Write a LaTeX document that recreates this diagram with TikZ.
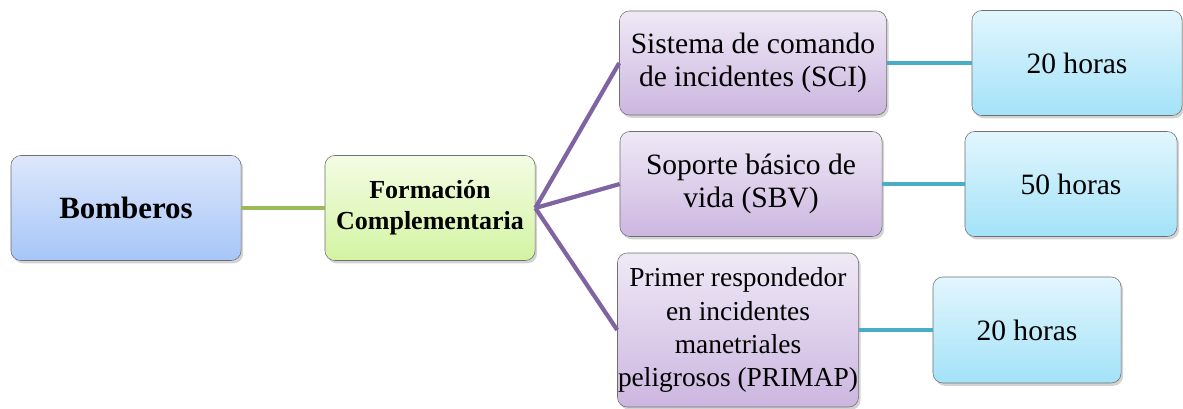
\documentclass[tikz,border=0pt]{standalone}
\usepackage{fontspec}
\setmainfont{Liberation Serif}
\usetikzlibrary{shadows,positioning}
\newcommand{\boxh}{2.625cm}
\definecolor{bordergray}{HTML}{707070}
\definecolor{greenln}{HTML}{9BBB59}
\definecolor{purpleln}{HTML}{8064A2}
\definecolor{tealln}{HTML}{4BACC6}
\definecolor{bluetop}{HTML}{DDE7FB}
\definecolor{bluebot}{HTML}{A6C6F8}
\definecolor{limetop}{HTML}{F4FCE4}
\definecolor{limebot}{HTML}{D3F4A2}
\definecolor{violtop}{HTML}{EFE9F6}
\definecolor{violbot}{HTML}{CCB6E0}
\definecolor{cyantop}{HTML}{E2F6FD}
\definecolor{cyanbot}{HTML}{A3E2F8}
\tikzset{
    basesty/.style={draw=bordergray,rectangle,rounded corners=7pt,align=center,
                    minimum height=\boxh,inner sep=2pt,
                    drop shadow={shadow xshift=1.5pt,shadow yshift=-2pt,opacity=0.35}},
    rootsty/.style={basesty,top color=bluetop,bottom color=bluebot,
                    font=\fontsize{22}{26}\selectfont\bfseries},
    midsty/.style={basesty,top color=limetop,bottom color=limebot,
                   font=\fontsize{18.5}{22}\selectfont\bfseries},
    topicsty/.style={basesty,top color=violtop,bottom color=violbot,
                     font=\fontsize{21}{23.5}\selectfont},
    hoursty/.style={basesty,top color=cyantop,bottom color=cyanbot,
                    font=\fontsize{21}{23.5}\selectfont},
    glinesty/.style={draw=greenln,line width=3.5pt},
    plinesty/.style={draw=purpleln,line width=3pt},
    tlinesty/.style={draw=tealln,line width=3.5pt},
}

\begin{document}
\begin{tikzpicture}[x=0.025cm,y=-0.025cm]
\useasboundingbox (0,0) rectangle (1183,408);

\node (bomb) [rootsty,minimum width=5.75cm] at (126,208) {Bomberos};
\node (form) [midsty,minimum width=5.25cm] at (430,208) {Formación\\Complementaria};

\node (sci) [topicsty,minimum width=6.675cm,minimum height=2.6cm] at (753,63) {Sistema de comando\\de incidentes (SCI)};
\node (sbv) [topicsty,minimum width=6.55cm] at (751,184) {Soporte básico de\\vida (SBV)};
\node (prim) [topicsty,minimum width=6.025cm,minimum height=3.85cm,inner xsep=0pt,
              font=\fontsize{19.5}{23.5}\selectfont] at (738,330) {Primer respondedor\\en incidentes\\manetriales\\peligrosos (PRIMAP)};

\node (hsci) [hoursty,minimum width=5.25cm] at (1077,63) {20 horas};
\node (hsbv) [hoursty,minimum width=5.3cm] at (1071,184) {50 horas};
\node (hprim) [hoursty,minimum width=4.7cm,minimum height=2.65cm] at (1027,330) {20 horas};

\draw[glinesty] (bomb.east) -- (form.west);
\draw[plinesty] (form.east) -- (sci.west);
\draw[plinesty] (form.east) -- (sbv.west);
\draw[plinesty] (form.east) -- (prim.west);
\draw[tlinesty] (sci.east) -- (hsci.west);
\draw[tlinesty] (sbv.east) -- (hsbv.west);
\draw[tlinesty] (prim.east) -- (hprim.west);
\end{tikzpicture}
\end{document}
